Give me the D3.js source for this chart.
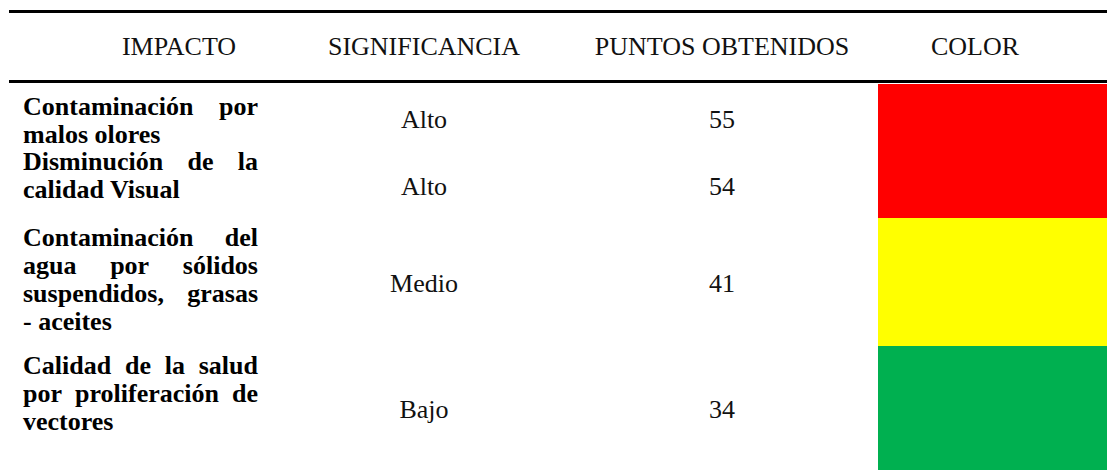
<!DOCTYPE html>
<html>
<head>
<meta charset="utf-8">
<script src="https://cdnjs.cloudflare.com/ajax/libs/d3/7.8.5/d3.min.js"></script>
<style>
body{margin:0;background:#fff;}
text{font-family:"Liberation Serif","Times New Roman",serif;font-size:26px;}
</style>
</head>
<body>
<div id="plot" style="width:1107px;height:470px;"></div>
<script>
// table content
var headers = ['IMPACTO','SIGNIFICANCIA','PUNTOS OBTENIDOS','COLOR'];
var impactos = [
	['Contaminación por','malos olores'],
	['Disminución de la','calidad Visual'],
	['Contaminación del','agua por sólidos','suspendidos, grasas','- aceites'],
	['Calidad de la salud','por proliferación de','vectores']
];
var significancia = ['Alto','Alto','Medio','Bajo'];
var puntos = [55,54,41,34];
var colores = ['#ff0000','#ff0000','#ffff00','#00b050'];

// layout
var width = 1107, height = 470;
var rowEdges = [84,151,218,346,470];
var textTops = [87,142,218,346];
var lineH = 28;
var colLeft = 23, colRight = 258;

var svg = d3.select('#plot')
	.append('svg')
	.attr('width',width)
	.attr('height',height);

var colX = d3.scaleOrdinal()
	.domain(headers)
	.range([179,424,722,975]);

var rows = d3.range(puntos.length);
var rowTop = d3.scaleOrdinal().domain(rows).range(rowEdges.slice(0,-1));
var rowBot = d3.scaleOrdinal().domain(rows).range(rowEdges.slice(1));

// colour cells
svg.selectAll('rect.cell')
	.data(rows)
	.enter()
	.append('rect')
	.attr('class','cell')
	.attr('x',878)
	.attr('y',function(d){return rowTop(d);})
	.attr('width',width-878)
	.attr('height',function(d){return rowBot(d)-rowTop(d);})
	.style('fill',function(d){return colores[d];});

// rules
[11.5,81.5].forEach(function(y){
	svg.append('line')
		.attr('x1',9).attr('x2',width)
		.attr('y1',y).attr('y2',y)
		.style('stroke','#000')
		.style('stroke-width',3);
});

// header
svg.selectAll('text.head')
	.data(headers)
	.enter()
	.append('text')
	.attr('class','head')
	.attr('x',function(d){return colX(d);})
	.attr('y',55)
	.attr('text-anchor','middle')
	.style('fill','#111')
	.text(function(d){return d;});

// middle columns
function midY(i){ return (rowTop(i)+rowBot(i))/2 + 10; }

svg.selectAll('text.sig')
	.data(significancia)
	.enter()
	.append('text')
	.attr('class','sig')
	.attr('x',colX('SIGNIFICANCIA'))
	.attr('y',function(d,i){return midY(i);})
	.attr('text-anchor','middle')
	.style('fill','#111')
	.text(function(d){return d;});

svg.selectAll('text.pts')
	.data(puntos)
	.enter()
	.append('text')
	.attr('class','pts')
	.attr('x',colX('PUNTOS OBTENIDOS'))
	.attr('y',function(d,i){return midY(i);})
	.attr('text-anchor','middle')
	.style('fill','#111')
	.text(function(d){return d;});

// first column, bold and justified
impactos.forEach(function(lines,i){
	lines.forEach(function(line,j){
		var y = textTops[i] + 28 + j*lineH;
		var last = (j == lines.length-1);
		var words = line.split(' ');
		if (last || words.length < 2) {
			svg.append('text')
				.attr('x',colLeft)
				.attr('y',y)
				.style('font-weight','bold')
				.style('fill','#000')
				.text(line);
			return;
		}
		var nodes = words.map(function(w){
			return svg.append('text')
				.attr('y',y)
				.style('font-weight','bold')
				.style('fill','#000')
				.text(w);
		});
		var widths = nodes.map(function(n){return n.node().getComputedTextLength();});
		var gap = (colRight-colLeft-d3.sum(widths))/(words.length-1);
		var x = colLeft;
		nodes.forEach(function(n,k){
			n.attr('x',x);
			x += widths[k]+gap;
		});
	});
});
</script>
</body>
</html>
